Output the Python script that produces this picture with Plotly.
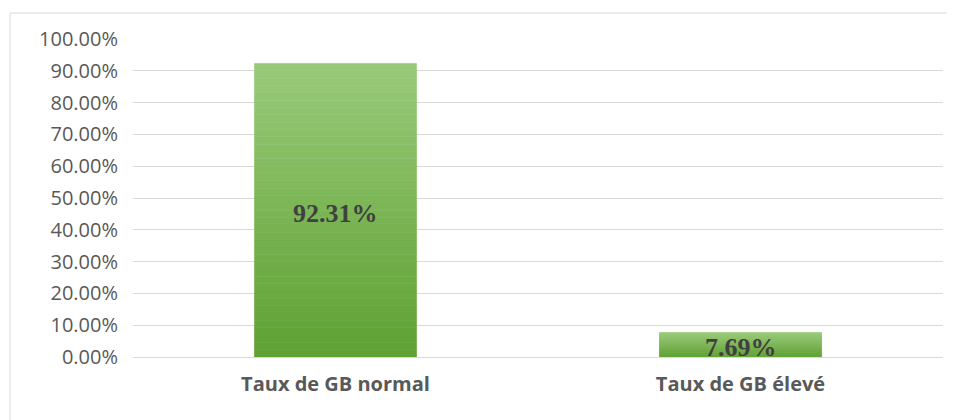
import plotly.graph_objects as go

categories = ["Taux de GB normal", "Taux de GB élevé"]
values = [0.9231, 0.0769]
value_labels = ["92.31%", "7.69%"]

top_rgb = (153, 202, 121)
bot_rgb = (94, 160, 50)
N = 40

fig = go.Figure()
for i in range(N):
    t = (i + 0.5) / N
    c = tuple(round(bot_rgb[k] + (top_rgb[k] - bot_rgb[k]) * t) for k in range(3))
    fig.add_trace(go.Bar(
        x=categories,
        y=[v / N for v in values],
        base=[v * i / N for v in values],
        width=0.4,
        marker=dict(color="rgb(%d,%d,%d)" % c, line=dict(width=0.6, color="rgb(%d,%d,%d)" % c)),
        hoverinfo="skip",
        showlegend=False,
    ))

W, H = 947, 412
L, T = 125, 31
PR, PB = 935, 349

annotations = [
    dict(
        x=cat, y=v / 2, xref="x", yref="y",
        text=lab, showarrow=False, yshift=-3,
        font=dict(family="Liberation Serif", size=26, color="#404040", weight="bold"),
    )
    for cat, v, lab in zip(categories, values, value_labels)
]

fig.update_layout(
    width=W,
    height=H,
    barmode="overlay",
    plot_bgcolor="white",
    paper_bgcolor="white",
    margin=dict(l=L, r=W - PR, t=T, b=H - PB),
    showlegend=False,
    annotations=annotations,
    xaxis=dict(
        showgrid=False,
        showline=False,
        ticks="",
        tickfont=dict(family="Open Sans", size=20, color="#595959", weight="bold"),
        ticklabelstandoff=13,
    ),
    yaxis=dict(
        range=[0, 1.0],
        dtick=0.1,
        tickformat=".2%",
        showgrid=True,
        gridcolor="#D9D9D9",
        gridwidth=1.3,
        zeroline=True,
        zerolinecolor="#D9D9D9",
        zerolinewidth=1.3,
        showline=False,
        ticks="",
        tickfont=dict(family="Open Sans", size=20, color="#595959"),
        ticklabelstandoff=14,
    ),
    shapes=[dict(
        type="rect", xref="paper", yref="paper",
        x0=(2 - L) / (PR - L), x1=1.05,
        y0=-0.3, y1=(PB - 5) / (PB - T),
        line=dict(color="#D9D9D9", width=1),
        fillcolor="rgba(0,0,0,0)",
        layer="below",
    )],
)

fig.write_html("out.html")
